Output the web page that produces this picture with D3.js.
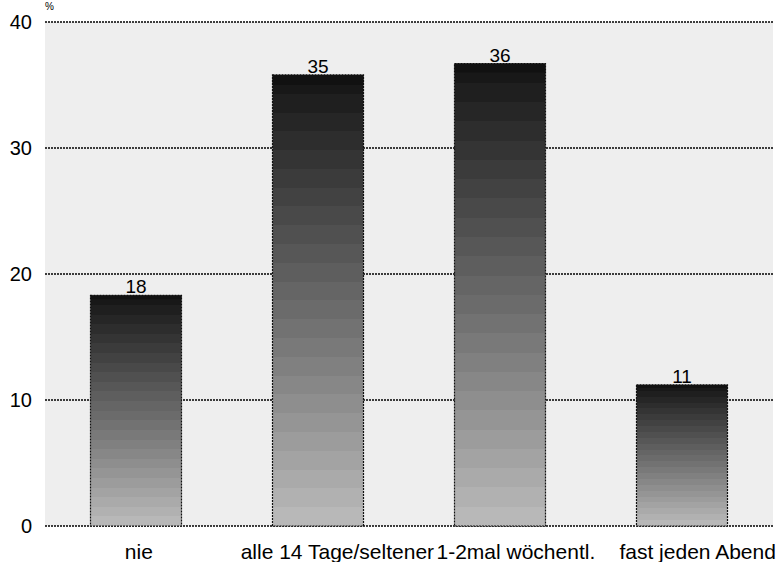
<!DOCTYPE html>
<html>
<head>
<meta charset="utf-8">
<script src="https://cdn.jsdelivr.net/npm/d3@7"></script>
<style>
body { margin: 0; background: #fff; }
text { font-family: "Liberation Sans", Arial, sans-serif; }
</style>
</head>
<body>
<div id="chart"></div>
<script>
// data
const categories = ["nie", "alle 14 Tage/seltener", "1-2mal wöchentl.", "fast jeden Abend"];
const values = [18.3, 35.8, 36.7, 11.2];
const labels = [18, 35, 36, 11];
const yTicks = [0, 10, 20, 30, 40];

const width = 777, height = 562;
const margin = {left: 45, right: 4, top: 22, bottom: 36};
const w = width - margin.left - margin.right;
const h = height - margin.top - margin.bottom;

const svg = d3.select("#chart").append("svg")
	.attr("width", width)
	.attr("height", height);

// banded gradient for bars (dark top, light bottom)
const defs = svg.append("defs");
const grad = defs.append("linearGradient")
	.attr("id", "barGrad")
	.attr("x1", 0).attr("y1", 0).attr("x2", 0).attr("y2", 1);
const nBands = 24;
const shade = d3.interpolateRgb("#181818", "#b8b8b8");
for (let i = 0; i < nBands; i++) {
	const c = shade(i / (nBands - 1));
	grad.append("stop").attr("offset", (i / nBands * 100) + "%").attr("stop-color", c);
	grad.append("stop").attr("offset", ((i + 1) / nBands * 100) + "%").attr("stop-color", c);
}

const g = svg.append("g")
	.attr("transform", "translate(" + margin.left + "," + margin.top + ")");

// scales
const x = d3.scaleBand()
	.domain(categories)
	.range([0, w])
	.paddingInner(0.5)
	.paddingOuter(0.25);

const y = d3.scaleLinear()
	.domain([0, 40])
	.range([h, 0]);

// plot background
g.append("rect")
	.attr("width", w)
	.attr("height", h)
	.attr("fill", "#eeeeee");

// grid lines
g.selectAll(".grid")
	.data(yTicks)
	.enter().append("line")
	.attr("x1", 0)
	.attr("x2", w)
	.attr("y1", d => y(d))
	.attr("y2", d => y(d))
	.attr("stroke", "#000")
	.attr("stroke-width", 1.5)
	.attr("stroke-dasharray", "2,1");

// y axis labels
const yAxis = d3.axisLeft(y).tickValues(yTicks).tickSize(0).tickPadding(13);
const yAxisGroup = g.append("g").call(yAxis);
yAxisGroup.select(".domain").remove();
yAxisGroup.selectAll("text")
	.attr("font-size", "20px")
	.attr("font-family", "Liberation Sans, Arial, sans-serif")
	.attr("fill", "#000");

// % unit label
svg.append("text")
	.attr("x", 45)
	.attr("y", 10)
	.attr("font-size", "10px")
	.attr("fill", "#000")
	.text("%");

// bars
const bars = g.selectAll(".bar")
	.data(values)
	.enter().append("g");

bars.append("rect")
	.attr("x", (d, i) => x(categories[i]))
	.attr("y", d => y(d))
	.attr("width", x.bandwidth())
	.attr("height", d => h - y(d))
	.attr("fill", "url(#barGrad)")
	.attr("stroke", "#111")
	.attr("stroke-width", 1.2)
	.attr("stroke-dasharray", "2,1");

// dark cap on top of bars
bars.append("rect")
	.attr("x", (d, i) => x(categories[i]))
	.attr("y", d => y(d))
	.attr("width", x.bandwidth())
	.attr("height", (d, i) => Math.max(3, y(labels[i]) - y(d)))
	.attr("fill", "#111");

// value labels
bars.append("text")
	.attr("x", (d, i) => x(categories[i]) + x.bandwidth() / 2)
	.attr("y", d => y(d) - 2)
	.attr("text-anchor", "middle")
	.attr("font-size", "19px")
	.attr("fill", "#000")
	.text((d, i) => labels[i]);

// x axis labels
const xAxis = d3.axisBottom(x).tickSize(0).tickPadding(0);
const xAxisGroup = g.append("g")
	.attr("transform", "translate(0," + h + ")")
	.call(xAxis);
xAxisGroup.select(".domain").remove();
xAxisGroup.selectAll("text")
	.attr("font-size", "21px")
	.attr("font-family", "Liberation Sans, Arial, sans-serif")
	.attr("fill", "#000")
	.attr("dy", null)
	.attr("y", 33)
	.attr("text-anchor", "start")
	.attr("x", function() { return -0.4 * this.getComputedTextLength(); });
</script>
</body>
</html>
